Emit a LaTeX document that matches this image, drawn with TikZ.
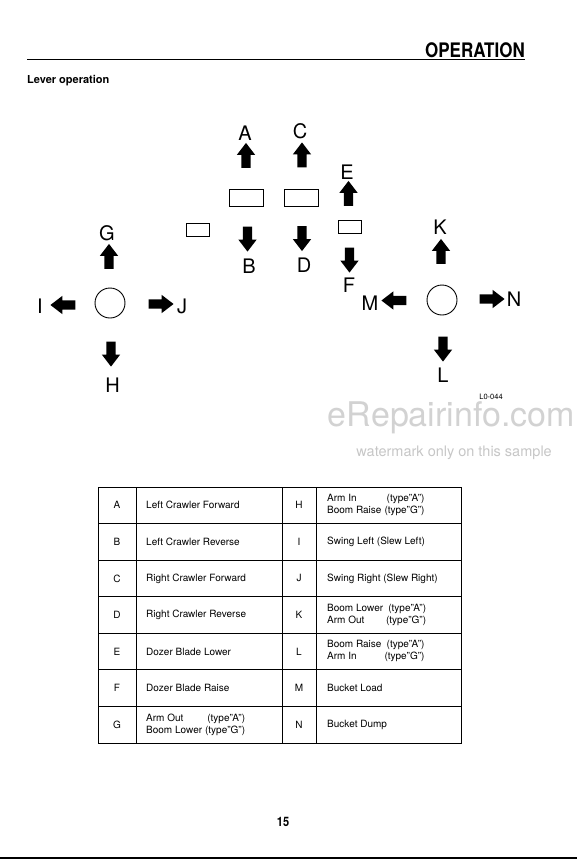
\documentclass[tikz,border=0pt]{standalone}
\usepackage{fontspec}
\setmainfont{TeX Gyre Heros}
\newfontfamily\headfont[FakeStretch=0.85]{TeX Gyre Heros}
\usetikzlibrary{shapes.arrows}

\begin{document}
\begin{tikzpicture}[x=1pt,y=-1pt,lever/.style={draw=black,line width=0.9pt,minimum width=34pt,minimum height=17pt,inner sep=0pt},leverS/.style={lever,minimum width=23pt,minimum height=13pt},knob/.style={shape=circle,draw=black,line width=0.9pt,minimum size=30pt,inner sep=0pt},blk/.style={single arrow,fill=black,inner xsep=0pt,inner ysep=4.5pt,minimum height=25pt,single arrow head extend=4.5pt,single arrow tip angle=75},arrU/.style={blk,rotate=90},arrD/.style={blk,rotate=-90},arrL/.style={blk,rotate=180},arrR/.style={blk},lt/.style={font=\fontsize{20}{24}\selectfont,inner sep=0pt},cell/.style={font=\fontsize{10}{12}\selectfont,inner sep=0pt},cellL/.style={cell,anchor=west}]
\def\ty{487};
\def\rh{36.57};
\def\ca{117};
\def\cb{146};
\def\cc{299};
\def\cd{327};

\useasboundingbox (0,0) rectangle (577,860);

\draw[line width=1.2pt] (27,59.5) -- (525,59.5);
\node[anchor=base east,inner sep=0pt,font=\headfont\bfseries\fontsize{20}{24}\selectfont] (title) at (525,57) {OPERATION};
\node[anchor=base west,inner sep=0pt,font=\bfseries\fontsize{11}{13}\selectfont] (sub) at (27,83) {Lever operation};

\node[lt] (A) at (245,133) {A};
\node[arrU] (aA) at (246,158.5) {};
\node[lever] (lvA) at (246,197.5) {};
\node[arrD] (aB) at (247.5,236) {};
\node[lt] (B) at (249,266) {B};

\node[lt] (C) at (300,131) {C};
\node[arrU] (aC) at (302,158) {};
\node[lever] (lvC) at (301,197.5) {};
\node[arrD] (aD) at (302,235.5) {};
\node[lt] (D) at (304,265) {D};

\node[lt] (E) at (347,172) {E};
\node[arrU] (aE) at (348.5,196.5) {};
\node[leverS] (lvE) at (349.5,227) {};
\node[arrD] (aF) at (349.5,257) {};
\node[lt] (F) at (349,285) {F};

\node[leverS] (lvX) at (198,230) {};

\node[lt] (G) at (107,233) {G};
\node[arrU] (aG) at (109,259.5) {};
\node[knob] (kL) at (110,303) {};
\node[arrD] (aH) at (111,351) {};
\node[lt] (H) at (112.5,385) {H};
\node[arrL] (aI) at (66,305) {};
\node[lt] (I) at (40,306) {I};
\node[arrR] (aJ) at (158,304) {};
\node[lt] (J) at (182,306) {J};

\node[lt] (K) at (440,227) {K};
\node[arrU] (aK) at (441,254.5) {};
\node[knob] (kR) at (442,300) {};
\node[arrD] (aL) at (443,346) {};
\node[lt] (L) at (443,375) {L};
\node[arrL] (aM) at (397,300.5) {};
\node[lt] (M) at (370,303) {M};
\node[arrR] (aN) at (489,299) {};
\node[lt] (N) at (514,299.5) {N};

\node[inner sep=0pt,font=\fontsize{7.5}{9}\selectfont] (code) at (491,396.5) {L0-044};
\node[anchor=base east,inner sep=0pt,text=gray!35,font=\fontsize{34}{40}\selectfont] (wm) at (575,426) {eRepairinfo.com};
\node[anchor=base east,inner sep=0pt,text=gray!45,font=\fontsize{14.5}{17}\selectfont] (wm2) at (552,456) {watermark only on this sample};

\draw[line width=0.8pt] (98,\ty) rectangle (461,\ty+7*\rh);
\foreach \i in {1,...,6} \draw[line width=0.8pt] (98,\ty+\i*\rh) -- (461,\ty+\i*\rh);
\draw[line width=0.8pt] (136,\ty) -- (136,\ty+7*\rh);
\draw[line width=0.8pt] (282,\ty) -- (282,\ty+7*\rh);
\draw[line width=0.8pt] (316,\ty) -- (316,\ty+7*\rh);

\node[cell] (tA) at (\ca,\ty+0.5*\rh) {A};
\node[cellL] (dA) at (\cb,\ty+0.5*\rh) {Left Crawler Forward};
\node[cell] (tB) at (\ca,\ty+1.5*\rh) {B};
\node[cellL] (dB) at (\cb,\ty+1.5*\rh) {Left Crawler Reverse};
\node[cell] (tC) at (\ca,\ty+2.5*\rh) {C};
\node[cellL] (dC) at (\cb,\ty+2.5*\rh) {Right Crawler Forward};
\node[cell] (tD) at (\ca,\ty+3.5*\rh) {D};
\node[cellL] (dD) at (\cb,\ty+3.5*\rh) {Right Crawler Reverse};
\node[cell] (tE) at (\ca,\ty+4.5*\rh) {E};
\node[cellL] (dE) at (\cb,\ty+4.5*\rh) {Dozer Blade Lower};
\node[cell] (tF) at (\ca,\ty+5.5*\rh) {F};
\node[cellL] (dF) at (\cb,\ty+5.5*\rh) {Dozer Blade Raise};
\node[cell] (tG) at (\ca,\ty+6.5*\rh) {G};
\node[cellL] (dG) at (\cb,\ty+6.5*\rh) {\begin{tabular}{@{}l@{\hspace{3pt}}r@{}}Arm Out & (type"A")\\ Boom Lower & (type"G")\end{tabular}};

\node[cell] (tH) at (\cc,\ty+0.5*\rh) {H};
\node[cellL] (dH) at (\cd,\ty+0.5*\rh) {\begin{tabular}{@{}l@{\hspace{3pt}}r@{}}Arm In & (type"A")\\ Boom Raise & (type"G")\end{tabular}};
\node[cell] (tI) at (\cc,\ty+1.5*\rh) {I};
\node[cellL] (dI) at (\cd,\ty+1.5*\rh) {Swing Left (Slew Left)};
\node[cell] (tJ) at (\cc,\ty+2.5*\rh) {J};
\node[cellL] (dJ) at (\cd,\ty+2.5*\rh) {Swing Right (Slew Right)};
\node[cell] (tK) at (\cc,\ty+3.5*\rh) {K};
\node[cellL] (dK) at (\cd,\ty+3.5*\rh) {\begin{tabular}{@{}l@{\hspace{3pt}}r@{}}Boom Lower & (type"A")\\ Arm Out & (type"G")\end{tabular}};
\node[cell] (tL) at (\cc,\ty+4.5*\rh) {L};
\node[cellL] (dL) at (\cd,\ty+4.5*\rh) {\begin{tabular}{@{}l@{\hspace{3pt}}r@{}}Boom Raise & (type"A")\\ Arm In & (type"G")\end{tabular}};
\node[cell] (tM) at (\cc,\ty+5.5*\rh) {M};
\node[cellL] (dM) at (\cd,\ty+5.5*\rh) {Bucket Load};
\node[cell] (tN) at (\cc,\ty+6.5*\rh) {N};
\node[cellL] (dN) at (\cd,\ty+6.5*\rh) {Bucket Dump};

\node[inner sep=0pt,font=\headfont\bfseries\fontsize{13}{15}\selectfont] (page) at (283,822) {15};
\draw[line width=1.5pt] (0,858) -- (577,858);
\end{tikzpicture}
\end{document}
